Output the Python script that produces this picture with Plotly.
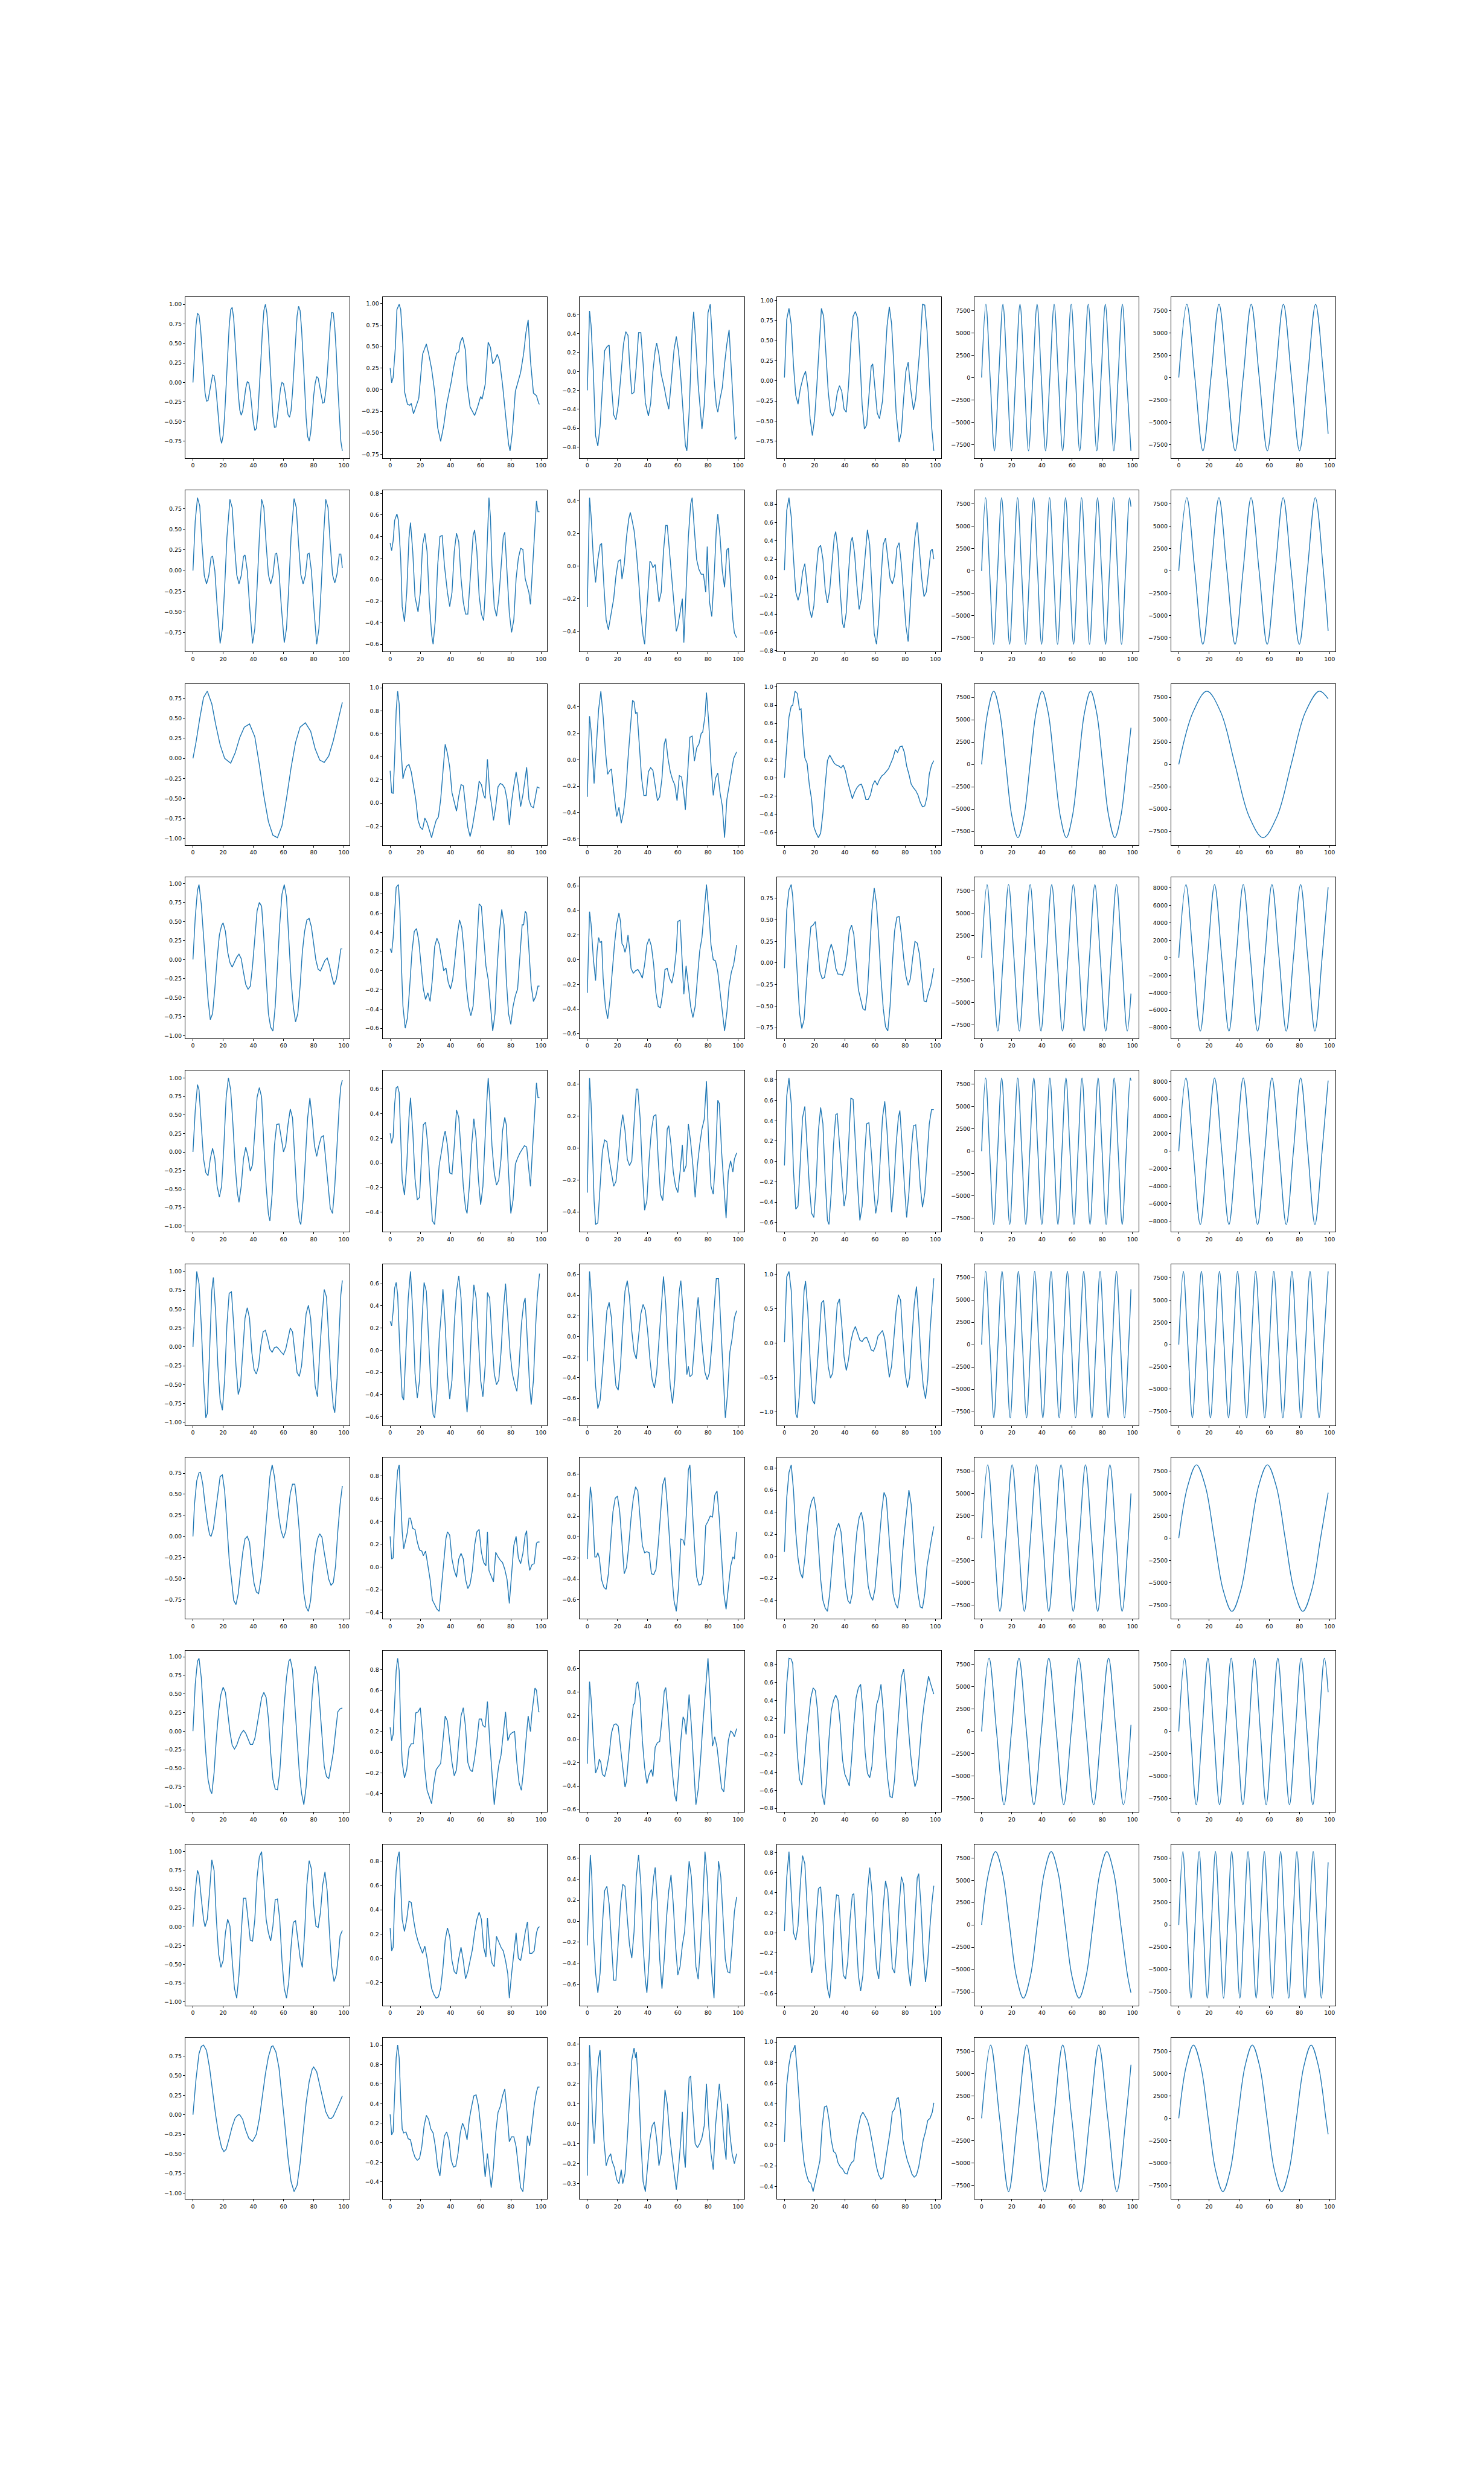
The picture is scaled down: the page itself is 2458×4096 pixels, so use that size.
import plotly.graph_objects as go

# ---------------- data ----------------
r1c1 = [(0,0.0),(1,0.39),(2,0.73),(3,0.885),(4,0.86),(5,0.70),(6,0.45),(7,0.15),(8,-0.13),(9,-0.24),(10,-0.23),(11,-0.12),(12,0.0),(13,0.095),(14,0.085),(15,-0.03),(16,-0.25),(17,-0.48),(18,-0.70),(19,-0.78),(20,-0.68),(21,-0.42),(22,-0.05),(23,0.35),(24,0.72),(25,0.93),(26,0.96),(27,0.82),(28,0.55),(29,0.20),(30,-0.14),(31,-0.35),(32,-0.42),(33,-0.36),(34,-0.22),(35,-0.07),(36,0.01),(37,-0.005),(38,-0.12),(39,-0.32),(40,-0.51),(41,-0.615),(42,-0.59),(43,-0.41),(44,-0.10),(45,0.28),(46,0.65),(47,0.92),(48,1.00),(49,0.89),(50,0.62),(51,0.25),(52,-0.12),(53,-0.43),(54,-0.575),(55,-0.57),(56,-0.44),(57,-0.25),(58,-0.08),(59,0.0),(60,-0.015),(61,-0.12),(62,-0.28),(63,-0.41),(64,-0.445),(65,-0.36),(66,-0.12),(67,0.22),(68,0.56),(69,0.85),(70,0.975),(71,0.92),(72,0.68),(73,0.35),(74,-0.05),(75,-0.45),(76,-0.69),(77,-0.75),(78,-0.65),(79,-0.43),(80,-0.17),(81,-0.01),(82,0.075),(83,0.055),(84,-0.05),(85,-0.18),(86,-0.265),(87,-0.255),(88,-0.12),(89,0.10),(90,0.42),(91,0.72),(92,0.895),(93,0.89),(94,0.70),(95,0.38),(96,-0.05),(97,-0.43),(98,-0.75),(99,-0.875)]
r1c2 = [(0,0.25),(1,0.08),(2,0.14),(3.5,0.50),(4.5,0.93),(6,0.99),(7,0.93),(8.5,0.53),(9.5,-0.02),(11.5,-0.17),(13,-0.18),(14,-0.16),(15.5,-0.28),(17.5,-0.17),(19,-0.10),(21.5,0.41),(24,0.53),(25.5,0.42),(27.5,0.24),(29.5,-0.02),(31.5,-0.44),(33.5,-0.60),(35.5,-0.42),(37.5,-0.17),(40.5,0.09),(42,0.25),(44,0.42),(45.5,0.44),(46.5,0.55),(48,0.61),(50,0.45),(51,0.06),(53,-0.20),(56,-0.30),(58,-0.20),(60,-0.08),(61,-0.11),(63,0.06),(65,0.55),(66.5,0.49),(68,0.30),(69.5,0.34),(71,0.41),(72.5,0.34),(74.5,0.06),(76.5,-0.29),(78.5,-0.63),(79.5,-0.71),(81,-0.50),(83,-0.02),(84.5,0.07),(86.5,0.20),(88.5,0.42),(90,0.66),(91.5,0.81),(93,0.34),(95,-0.04),(97,-0.07),(98.5,-0.16),(99,-0.17)]
r1c3 = [(0,-0.20),(1.5,0.64),(2.5,0.49),(4,0.0),(5.5,-0.68),(7,-0.79),(8.5,-0.58),(10,-0.14),(11.5,0.22),(13,0.26),(14.5,0.28),(16,-0.14),(17.5,-0.46),(19,-0.51),(20.5,-0.36),(22.5,0.0),(24,0.29),(25.5,0.42),(27,0.38),(28,0.09),(29.5,-0.24),(31,-0.22),(32.5,0.06),(34,0.41),(35.5,0.41),(37,0.08),(38.5,-0.33),(40.5,-0.47),(42,-0.34),(43.5,0.0),(45,0.22),(46,0.30),(47.5,0.18),(49,-0.03),(51,-0.17),(52.5,-0.30),(54,-0.40),(55.5,-0.14),(57.5,0.23),(59,0.37),(60.5,0.21),(62,-0.07),(63.5,-0.43),(65,-0.78),(66,-0.84),(67.5,-0.43),(68.5,0.0),(69.5,0.44),(70.5,0.63),(72,0.29),(73.5,-0.14),(75,-0.43),(76,-0.61),(77.5,-0.36),(79,0.15),(80,0.62),(81.5,0.71),(82.5,0.44),(84,-0.07),(85.5,-0.36),(86.5,-0.43),(88,-0.29),(89.5,-0.17),(91,0.08),(92.5,0.29),(94,0.44),(95.5,0.0),(97,-0.43),(98,-0.72),(99,-0.69)]
r1c4 = [(0,0.04),(1.5,0.76),(3,0.90),(4.5,0.70),(6,0.19),(7.5,-0.18),(9,-0.29),(10.5,-0.10),(12.5,0.05),(14,0.12),(15.5,-0.08),(17,-0.47),(18.5,-0.68),(20,-0.47),(21.5,-0.05),(23,0.46),(24.5,0.90),(26,0.80),(27.5,0.37),(29,-0.13),(30.5,-0.39),(32,-0.44),(33.5,-0.35),(35,-0.15),(36.5,-0.06),(38,-0.13),(39.5,-0.35),(41,-0.39),(42.5,-0.05),(44,0.46),(45.5,0.80),(47,0.86),(48.5,0.78),(50,0.29),(51.5,-0.30),(53,-0.60),(54.5,-0.55),(56,-0.15),(57.5,0.18),(58.5,0.21),(60,-0.10),(61.5,-0.40),(63,-0.47),(65,-0.25),(66.5,0.20),(68,0.68),(69.5,0.92),(71,0.71),(72.5,0.20),(74,-0.39),(76,-0.76),(77.5,-0.64),(79,-0.22),(80.5,0.12),(82,0.23),(83.5,-0.08),(85.5,-0.36),(87,-0.22),(88.5,0.12),(90,0.46),(91.5,0.95),(93,0.94),(94.5,0.63),(96,0.04),(97.5,-0.56),(99,-0.87)]
r1c5_x = [0,2.83,5.66,8.48,11.31,14.14,16.97,19.79,22.62,25.45,28.28,31.1,33.93,36.76,39.59,42.41,45.24,48.07,50.9,53.72,56.55,59.38,62.21,65.03,67.86,70.69,73.52,76.34,79.17,82.0,84.83,87.65,90.48,93.31,96.14,98.96]
r1c5_y = [0,8200,0,-8200,0,8200,0,-8200,0,8200,0,-8200,0,8200,0,-8200,0,8200,0,-8200,0,8200,0,-8200,0,8200,0,-8200,0,8200,0,-8200,0,8200,0,-8200]
r1c6_x = [0,5.34,10.67,16.01,21.34,26.68,32.01,37.35,42.68,48.02,53.35,58.69,64.02,69.36,74.69,80.03,85.36,90.7,96.03,99]
r1c6_y = [0,8200,0,-8200,0,8200,0,-8200,0,8200,0,-8200,0,8200,0,-8200,0,8200,0,-6300]

r2c1 = [(0,0.0),(1.5,0.6),(3,0.88),(4.5,0.78),(6,0.32),(7.5,-0.06),(9,-0.16),(10.5,-0.06),(12,0.16),(13,0.175),(14.5,0.0),(16,-0.42),(18,-0.88),(19.5,-0.7),(21,-0.2),(22.5,0.4),(24.5,0.86),(26,0.76),(27.5,0.32),(29,-0.05),(30.5,-0.16),(32,-0.06),(33.5,0.17),(34.5,0.19),(36,0.0),(37.5,-0.42),(39.5,-0.88),(41,-0.7),(42.5,-0.2),(44,0.4),(45.5,0.86),(47,0.76),(48.5,0.32),(50,-0.05),(51.5,-0.16),(53,-0.06),(54.5,0.2),(55.5,0.21),(57,0.0),(58.5,-0.42),(60.5,-0.87),(62,-0.7),(63.5,-0.2),(65,0.4),(67,0.87),(68.5,0.76),(70,0.32),(71.5,-0.05),(73,-0.16),(74.5,-0.06),(76,0.2),(77,0.21),(78.5,0.0),(80,-0.42),(82,-0.89),(83.5,-0.7),(85,-0.2),(86.5,0.4),(88,0.86),(89.5,0.76),(91,0.32),(92.5,-0.05),(94,-0.15),(95.5,-0.04),(97,0.2),(98,0.2),(99,0.03)]
r2c2 = [(0,0.34),(1,0.27),(2,0.36),(3,0.55),(4.5,0.61),(5.5,0.55),(7,0.20),(8,-0.25),(9.5,-0.39),(11,-0.12),(12.5,0.39),(13.5,0.53),(15,0.26),(16.5,-0.16),(18.5,-0.30),(20,-0.12),(21.5,0.32),(23,0.43),(24.5,0.26),(26,-0.21),(27.5,-0.51),(28.5,-0.60),(30,-0.37),(31.5,0.13),(33,0.40),(34.5,0.41),(36,0.13),(38,-0.12),(39.5,-0.25),(41,-0.12),(42.5,0.26),(44,0.43),(45.5,0.35),(47,0.01),(48.5,-0.21),(50,-0.32),(51.5,-0.32),(53,0.01),(55,0.41),(56,0.46),(57.5,0.26),(59,-0.15),(60.5,-0.32),(62,-0.38),(63.5,0.01),(64.5,0.39),(65.5,0.76),(66.5,0.58),(67.5,0.13),(69,-0.25),(70.5,-0.34),(72,-0.18),(73.5,0.13),(75,0.40),(76,0.44),(77.5,0.07),(79,-0.31),(80.5,-0.49),(82,-0.37),(83.5,0.01),(85,0.20),(86.5,0.29),(88,0.28),(89.5,0.01),(90.5,-0.04),(92,-0.12),(93,-0.23),(94.5,0.13),(96,0.51),(97,0.73),(98,0.63),(99,0.63)]
r2c3 = [(0,-0.25),(1.5,0.42),(2.5,0.31),(4,0.05),(5.5,-0.10),(7,0.04),(8.5,0.13),(9.5,0.14),(11,-0.12),(12.5,-0.33),(14,-0.39),(15.5,-0.31),(17.5,-0.20),(19,-0.06),(20.5,0.03),(22,0.04),(23,-0.08),(24.5,0.01),(26,0.18),(27.5,0.29),(28.5,0.33),(29.5,0.29),(31,0.22),(32.5,0.09),(34,-0.08),(35.5,-0.29),(37,-0.43),(38,-0.48),(39,-0.33),(40.5,-0.09),(41.5,0.03),(42.5,0.02),(43.5,-0.01),(45,0.01),(46,-0.08),(47.5,-0.22),(49,-0.16),(50.5,0.09),(52,0.25),(53,0.25),(54.5,0.09),(56,-0.08),(57.5,-0.24),(59,-0.40),(60,-0.37),(61.5,-0.28),(63,-0.20),(64,-0.47),(65.5,-0.16),(67,0.18),(68.5,0.38),(69.5,0.42),(71,0.22),(72.5,0.04),(74,-0.02),(75.5,-0.05),(77,-0.05),(78.5,-0.16),(79.5,0.12),(81,-0.22),(82.5,-0.31),(84,-0.08),(85.5,0.22),(86.5,0.32),(88,0.18),(89.5,-0.03),(91,-0.13),(92.5,0.10),(93.5,0.11),(95,-0.12),(96.5,-0.33),(97.5,-0.41),(99,-0.44)]
r2c4 = [(0,0.08),(1.5,0.73),(3,0.87),(4.5,0.66),(6,0.21),(7.5,-0.16),(9,-0.25),(10.5,-0.16),(12,0.06),(13.5,0.15),(15,-0.08),(16.5,-0.34),(18,-0.44),(19.5,-0.31),(21,0.06),(22.5,0.32),(24,0.35),(25.5,0.20),(27,-0.13),(28.5,-0.28),(30,-0.14),(31.5,0.14),(33,0.44),(34,0.50),(35.5,0.29),(37,-0.16),(38.5,-0.50),(39.5,-0.55),(41,-0.38),(42.5,0.06),(44,0.39),(45,0.44),(46.5,0.26),(48,-0.08),(49.5,-0.35),(51,-0.23),(52.5,0.06),(54,0.36),(55,0.52),(56.5,0.36),(58,-0.16),(59.5,-0.61),(61,-0.73),(62.5,-0.46),(64,-0.01),(65.5,0.36),(67,0.43),(68.5,0.20),(70,-0.01),(71.5,-0.07),(73,0.02),(74.5,0.32),(76,0.38),(77.5,0.14),(79,-0.23),(80.5,-0.53),(82,-0.70),(83.5,-0.31),(85,0.14),(86.5,0.44),(88,0.60),(89.5,0.29),(91,-0.01),(92.5,-0.21),(94,-0.16),(95.5,0.06),(97,0.29),(98,0.31),(99,0.20)]
r2c5_x = [0,2.65,5.3,7.95,10.6,13.25,15.9,18.55,21.2,23.85,26.5,29.15,31.8,34.45,37.1,39.75,42.4,45.05,47.7,50.35,53.0,55.65,58.3,60.95,63.6,66.25,68.9,71.55,74.2,76.85,79.5,82.15,84.8,87.45,90.1,92.75,95.4,98.05,99]
r2c5_y = [0,8200,0,-8200,0,8200,0,-8200,0,8200,0,-8200,0,8200,0,-8200,0,8200,0,-8200,0,8200,0,-8200,0,8200,0,-8200,0,8200,0,-8200,0,8200,0,-8200,0,8200,7200]
r2c6_x = [0,5.33,10.65,15.98,21.3,26.63,31.95,37.28,42.6,47.93,53.25,58.58,63.9,69.23,74.55,79.88,85.2,90.53,95.85,99]
r2c6_y = [0,8200,0,-8200,0,8200,0,-8200,0,8200,0,-8200,0,8200,0,-8200,0,8200,0,-6700]

r3c1 = [(0,0.0),(2,0.2),(4.5,0.5),(7,0.76),(9.5,0.84),(12.5,0.68),(15,0.43),(18,0.17),(21,0.0),(25,-0.06),(28,0.07),(31,0.26),(34,0.39),(37.5,0.43),(41,0.27),(44,-0.08),(47,-0.47),(50,-0.79),(53,-0.96),(56,-0.99),(59,-0.84),(62,-0.5),(65,-0.12),(68,0.2),(71,0.39),(74.5,0.445),(78,0.34),(81,0.12),(84,-0.02),(87,-0.05),(90,0.03),(93,0.22),(96,0.46),(99,0.70)]
r3c2 = [(0,0.28),(1,0.09),(2,0.085),(3,0.39),(4,0.80),(5,0.97),(6,0.86),(7,0.51),(8.5,0.21),(9.5,0.27),(11,0.32),(12.5,0.335),(14,0.27),(15.5,0.15),(17,0.03),(18.5,-0.15),(20,-0.21),(21.5,-0.23),(23,-0.13),(24.5,-0.17),(26,-0.24),(27.5,-0.30),(29,-0.22),(30.5,-0.15),(32,-0.12),(33.5,0.03),(35,0.27),(36.5,0.51),(38,0.43),(39.5,0.31),(41,0.09),(42.5,0.01),(44,-0.07),(45.5,0.06),(47,0.16),(48.5,0.15),(50,-0.03),(51.5,-0.21),(53,-0.29),(54.5,-0.21),(56,-0.09),(57.5,0.03),(59,0.19),(60.5,0.16),(62,0.07),(63,0.04),(64.5,0.38),(66,0.09),(67.5,-0.04),(68.5,-0.15),(70,-0.03),(71.5,0.14),(73,0.17),(74.5,0.16),(76,0.13),(77.5,0.03),(79,-0.19),(80.5,0.01),(82,0.15),(83.5,0.27),(85,0.15),(86.5,-0.03),(88,0.07),(89.5,0.21),(90.5,0.31),(92,0.03),(93.5,-0.03),(95,-0.04),(96.5,0.06),(97.5,0.14),(99,0.13)]
r3c3 = [(0,-0.28),(1,0.17),(1.5,0.33),(2.5,0.22),(3.5,0.01),(4.5,-0.18),(5.5,0.01),(6.5,0.22),(7.5,0.38),(9,0.52),(10.5,0.33),(12,0.07),(13.5,-0.11),(15,-0.08),(16,-0.07),(17,-0.19),(18.5,-0.35),(19.5,-0.43),(21,-0.36),(22.5,-0.48),(24,-0.40),(25.5,-0.25),(27,0.01),(28.5,0.24),(30,0.45),(31,0.44),(32,0.35),(33,0.36),(34.5,0.12),(36,-0.14),(37.5,-0.27),(39,-0.27),(40.5,-0.09),(42,-0.06),(43.5,-0.08),(45,-0.19),(46.5,-0.31),(48,-0.28),(49.5,-0.14),(51,0.12),(52,0.16),(53.5,0.01),(55,-0.09),(56.5,-0.15),(58,-0.19),(59.5,-0.31),(61,-0.12),(62.5,-0.13),(64,-0.26),(65,-0.38),(66.5,-0.09),(68,0.17),(69.5,0.18),(71,-0.01),(72.5,0.09),(74,0.12),(75.5,0.20),(76.5,0.21),(78,0.33),(79,0.51),(80.5,0.28),(82,-0.04),(83.5,-0.27),(85,-0.14),(86.5,-0.10),(88,-0.25),(89.5,-0.35),(91,-0.59),(92.5,-0.30),(94,-0.19),(95.5,-0.09),(97,0.01),(99,0.06)]
r3c4 = [(0,0.0),(1.5,0.37),(3,0.67),(4.5,0.79),(5.5,0.80),(7,0.955),(8.5,0.93),(10,0.75),(11,0.76),(12,0.52),(13.5,0.22),(15,0.16),(16.5,-0.08),(18,-0.24),(19.5,-0.54),(21,-0.61),(22.5,-0.66),(24,-0.61),(25.5,-0.39),(27,-0.08),(28.5,0.19),(30,0.25),(31.5,0.20),(33,0.16),(34.5,0.14),(36,0.13),(37.5,0.11),(39,0.14),(40.5,0.07),(42,-0.05),(43.5,-0.14),(45,-0.23),(46.5,-0.16),(48,-0.11),(49.5,-0.08),(51,-0.07),(52.5,-0.14),(54,-0.24),(55.5,-0.24),(57,-0.19),(58.5,-0.08),(60,-0.03),(61.5,-0.08),(63,-0.02),(64.5,0.02),(66,0.04),(67.5,0.07),(69,0.10),(70.5,0.16),(72,0.22),(73.5,0.31),(75,0.28),(76.5,0.34),(78,0.35),(79.5,0.28),(81,0.13),(82.5,0.04),(84,-0.07),(85.5,-0.11),(87,-0.14),(88.5,-0.19),(90,-0.27),(91.5,-0.32),(93,-0.31),(94.5,-0.21),(96,0.04),(97.5,0.14),(99,0.19)]
r3c5_x = [0,4.01,8.03,12.04,16.05,20.06,24.08,28.09,32.1,36.11,40.13,44.14,48.15,52.16,56.18,60.19,64.2,68.21,72.23,76.24,80.25,84.26,88.28,92.29,96.3,99]
r3c5_y = [0,5800,8200,5800,0,-5800,-8200,-5800,0,5800,8200,5800,0,-5800,-8200,-5800,0,5800,8200,5800,0,-5800,-8200,-5800,0,4100]
r3c6_x = [0,9.31,18.63,27.94,37.25,46.56,55.88,65.19,74.5,83.81,93.13,99]
r3c6_y = [0,5800,8200,5800,0,-5800,-8200,-5800,0,5800,8200,7350]

r4c1 = [(0,0.0),(1.5,0.55),(3,0.91),(4,0.985),(5.5,0.73),(7,0.28),(8.5,-0.17),(10,-0.53),(11.5,-0.79),(13,-0.71),(14.5,-0.38),(16,0.01),(17.5,0.32),(19,0.45),(20,0.48),(21.5,0.37),(23,0.10),(24.5,-0.04),(26,-0.10),(27.5,-0.04),(29,0.03),(30.5,0.07),(32,0.01),(33.5,-0.17),(35,-0.33),(36.5,-0.39),(38,-0.35),(39.5,-0.08),(41,0.28),(42.5,0.64),(44,0.75),(45.5,0.70),(47,0.28),(48.5,-0.26),(50,-0.71),(51.5,-0.89),(53,-0.94),(54.5,-0.62),(56,-0.08),(57.5,0.46),(59,0.86),(60.5,0.985),(62,0.82),(63.5,0.28),(65,-0.26),(66.5,-0.62),(68,-0.82),(69.5,-0.71),(71,-0.35),(72.5,0.10),(74,0.37),(75.5,0.52),(77,0.54),(78.5,0.43),(80,0.19),(81.5,-0.01),(83,-0.13),(84.5,-0.15),(86,-0.08),(87.5,-0.01),(89,0.02),(90.5,-0.08),(92,-0.22),(93.5,-0.33),(95,-0.26),(96.5,-0.08),(98,0.14),(99,0.14)]
r4c2 = [(0,0.23),(1,0.19),(2,0.34),(3,0.63),(4,0.87),(5.5,0.90),(6.5,0.63),(7.5,0.05),(8.5,-0.37),(10,-0.60),(11.5,-0.49),(13,-0.16),(14.5,0.20),(16,0.41),(17.5,0.44),(19,0.31),(20.5,0.05),(22,-0.19),(23.5,-0.30),(25,-0.23),(26.5,-0.32),(28,-0.09),(29.5,0.25),(31,0.34),(32.5,0.28),(34,0.13),(35.5,0.0),(37,0.03),(38.5,-0.12),(40,-0.19),(41.5,-0.09),(43,0.13),(44.5,0.37),(46,0.53),(47.5,0.45),(49,0.20),(50.5,-0.16),(52,-0.37),(53.5,-0.47),(55,-0.37),(56.5,-0.02),(58,0.41),(59,0.70),(60.5,0.67),(62,0.34),(63.5,0.05),(65,-0.09),(66.5,-0.37),(68,-0.63),(69.5,-0.45),(71,0.05),(72.5,0.41),(74,0.64),(75.5,0.48),(77,-0.09),(78.5,-0.45),(80,-0.56),(81.5,-0.37),(83,-0.26),(84.5,-0.19),(86,0.13),(87.5,0.48),(88.5,0.48),(89.5,0.62),(90.5,0.60),(92,0.20),(93.5,-0.16),(95,-0.32),(96.5,-0.27),(98,-0.16),(99,-0.16)]
r4c3 = [(0,-0.27),(1.5,0.39),(2.5,0.29),(4,0.01),(5.5,-0.17),(6.5,0.07),(7.5,0.18),(8.5,0.14),(9.5,0.15),(10.5,-0.15),(12,-0.38),(13.5,-0.48),(15,-0.33),(16.5,-0.10),(18,0.12),(19.5,0.29),(21,0.38),(22,0.31),(23,0.13),(24,0.11),(25,0.06),(26,0.11),(27,0.20),(28,0.09),(29,-0.07),(30.5,-0.11),(32,-0.09),(33.5,-0.08),(35,-0.11),(36.5,-0.15),(38,-0.04),(39.5,0.12),(41,0.17),(42.5,0.11),(44,-0.04),(45.5,-0.27),(47,-0.38),(48.5,-0.39),(50,-0.27),(51.5,-0.08),(53,-0.07),(54.5,-0.15),(56,-0.19),(57.5,-0.10),(59,0.07),(60,0.31),(61.5,0.32),(63,-0.04),(64,-0.28),(65.5,-0.05),(67,-0.21),(68.5,-0.38),(70,-0.47),(71.5,-0.38),(73,-0.15),(74.5,0.07),(76,0.18),(77.5,0.40),(79,0.61),(80.5,0.40),(82,0.12),(83.5,0.0),(85,-0.01),(86.5,-0.10),(88,-0.27),(89.5,-0.43),(91,-0.58),(92.5,-0.43),(94,-0.21),(95.5,-0.10),(97,-0.04),(99,0.12)]
r4c4 = [(0,-0.06),(1.5,0.61),(3,0.85),(4.5,0.91),(5.5,0.77),(7,0.29),(8.5,-0.18),(10,-0.58),(11.5,-0.76),(13,-0.66),(14.5,-0.26),(16,0.13),(17.5,0.42),(19,0.44),(20.5,0.48),(22,0.21),(23.5,-0.10),(25,-0.18),(26.5,-0.17),(28,-0.02),(29.5,0.13),(31,0.22),(32.5,0.13),(34,-0.06),(35.5,-0.13),(37,-0.13),(38.5,-0.14),(40,-0.07),(41.5,0.10),(43,0.37),(44.5,0.44),(46,0.33),(47.5,-0.02),(49,-0.31),(50.5,-0.42),(52,-0.53),(53.5,-0.55),(55,-0.34),(56.5,0.13),(58,0.61),(59.5,0.87),(61,0.69),(62.5,0.29),(64,-0.18),(65.5,-0.53),(67,-0.74),(68.5,-0.79),(70,-0.50),(71.5,-0.02),(73,0.37),(74.5,0.53),(76,0.54),(77.5,0.33),(79,0.06),(80.5,-0.15),(82,-0.26),(83.5,-0.18),(85,0.06),(86.5,0.25),(88,0.23),(89.5,0.10),(91,-0.18),(92.5,-0.44),(94,-0.45),(95.5,-0.34),(97,-0.26),(99,-0.06)]
r4c5_x = [0,3.58,7.15,10.73,14.3,17.88,21.45,25.03,28.6,32.18,35.75,39.33,42.9,46.48,50.05,53.63,57.2,60.78,64.35,67.93,71.5,75.08,78.65,82.23,85.8,89.38,92.95,96.53,99]
r4c5_y = [0,8200,0,-8200,0,8200,0,-8200,0,8200,0,-8200,0,8200,0,-8200,0,8200,0,-8200,0,8200,0,-8200,0,8200,0,-8200,-4000]
r4c6_x = [0,4.75,9.5,14.25,19,23.75,28.5,33.25,38,42.75,47.5,52.25,57,61.75,66.5,71.25,76,80.75,85.5,90.25,95,99]
r4c6_y = [0,8400,0,-8400,0,8400,0,-8400,0,8400,0,-8400,0,8400,0,-8400,0,8400,0,-8400,0,8100]

r5c1 = [(0,0.0),(1.5,0.56),(3,0.91),(4,0.84),(5.5,0.37),(7,-0.09),(8.5,-0.28),(10,-0.32),(11.5,-0.09),(13,0.05),(14.5,-0.09),(16,-0.46),(17.5,-0.61),(19,-0.46),(20.5,0.09),(22,0.74),(23.5,1.0),(25,0.84),(26.5,0.37),(28,-0.19),(29.5,-0.56),(30.5,-0.68),(32,-0.46),(33.5,-0.09),(35,0.065),(36.5,-0.06),(38,-0.26),(39.5,-0.17),(41,0.28),(42.5,0.74),(44,0.87),(45.5,0.74),(47,0.09),(48.5,-0.46),(50,-0.84),(51,-0.93),(52.5,-0.56),(54,0.09),(55.5,0.37),(57,0.38),(58.5,0.19),(60,0.0),(61.5,0.09),(63,0.37),(64.5,0.58),(66,0.46),(67.5,-0.09),(69,-0.65),(70.5,-0.93),(71.5,-0.98),(73,-0.65),(74.5,-0.09),(76,0.46),(77.5,0.73),(79,0.46),(80.5,0.09),(82,-0.06),(83.5,0.09),(85,0.20),(86.5,0.22),(88,-0.09),(89.5,-0.46),(91,-0.76),(92.5,-0.83),(94,-0.46),(95.5,0.09),(97,0.65),(98,0.89),(99,0.97)]
r5c2 = [(0,0.24),(1,0.16),(2,0.21),(3,0.48),(4,0.61),(5,0.62),(6,0.57),(7,0.26),(8,-0.14),(9.5,-0.26),(11,-0.02),(12.5,0.37),(13.5,0.53),(15,0.26),(16.5,-0.13),(18,-0.30),(19.5,-0.28),(21,0.09),(22,0.31),(23.5,0.33),(25,0.14),(26.5,-0.19),(28,-0.47),(29.5,-0.50),(31,-0.24),(32.5,-0.02),(34,0.09),(35.5,0.21),(36.5,0.26),(38,0.14),(39.5,-0.08),(41,-0.09),(42.5,0.14),(44,0.43),(45.5,0.37),(47,0.09),(48.5,-0.19),(50,-0.37),(51,-0.41),(52.5,-0.19),(54,0.14),(55.5,0.36),(57,0.20),(58.5,-0.13),(60,-0.34),(61.5,-0.19),(63,0.26),(64,0.48),(65,0.69),(66,0.53),(67.5,0.14),(69,-0.08),(70.5,-0.18),(72,-0.14),(73.5,0.03),(74.5,0.26),(76,0.37),(77,0.31),(78.5,-0.08),(80,-0.41),(81.5,-0.30),(83,-0.01),(84.5,0.04),(86,0.08),(87.5,0.11),(89,0.14),(90.5,0.13),(92,-0.08),(93,-0.19),(94.5,0.14),(96,0.42),(97,0.65),(98,0.53),(99,0.53)]
r5c3 = [(0,-0.28),(1.5,0.44),(2.5,0.28),(3.5,-0.07),(4.5,-0.33),(5.5,-0.48),(7,-0.47),(8.5,-0.24),(10,-0.02),(11.5,0.05),(13,0.04),(14.5,-0.07),(16,-0.15),(17.5,-0.24),(19,-0.21),(20.5,-0.07),(22,0.11),(23.5,0.21),(25,0.11),(26.5,-0.07),(28,-0.11),(29.5,-0.08),(31,0.15),(32.5,0.37),(33.5,0.37),(35,0.19),(36.5,-0.15),(38,-0.39),(39.5,-0.33),(41,-0.07),(42.5,0.11),(44,0.20),(45.5,0.21),(47,-0.07),(48.5,-0.29),(50,-0.33),(51.5,-0.15),(53,0.12),(54,0.14),(55.5,0.02),(57,-0.15),(58.5,-0.24),(60,-0.28),(61.5,-0.15),(63,0.02),(64,-0.15),(65.5,-0.11),(67,0.15),(68.5,0.04),(70,-0.11),(71.5,-0.31),(73,-0.11),(74.5,0.02),(76,0.12),(77.5,0.18),(79,0.42),(80.5,0.02),(82,-0.24),(83.5,-0.29),(85,-0.07),(86.5,0.30),(87.5,0.28),(89,-0.02),(90.5,-0.24),(92,-0.44),(93.5,-0.15),(95,-0.08),(96.5,-0.15),(97.5,-0.07),(99,-0.03)]
r5c4 = [(0,-0.04),(1.5,0.64),(3,0.82),(4.5,0.57),(6,-0.10),(7.5,-0.47),(9,-0.44),(10.5,0.03),(12,0.43),(13.5,0.54),(15,0.16),(16.5,-0.24),(18,-0.51),(19.5,-0.55),(21,-0.24),(22.5,0.30),(24,0.53),(25.5,0.37),(27,-0.17),(28.5,-0.58),(29.5,-0.62),(31,-0.31),(32.5,0.16),(34,0.46),(35,0.47),(36.5,0.16),(38,-0.17),(39.5,-0.44),(41,-0.31),(42.5,0.16),(44,0.62),(45.5,0.61),(47,0.16),(48.5,-0.24),(50,-0.58),(51.5,-0.44),(53,0.03),(54.5,0.37),(56,0.38),(57.5,0.10),(59,-0.24),(60.5,-0.51),(62,-0.37),(63.5,0.03),(65,0.43),(66.5,0.59),(68,0.30),(69.5,-0.10),(71,-0.50),(72.5,-0.24),(74,0.16),(75.5,0.43),(76.5,0.50),(78,0.16),(79.5,-0.24),(81,-0.55),(82.5,-0.31),(84,0.10),(85.5,0.35),(87,0.36),(88.5,0.10),(90,-0.24),(91.5,-0.45),(93,-0.31),(94.5,0.03),(96,0.37),(97.5,0.51),(99,0.51)]
r5c5_x = [0,2.66,5.33,7.99,10.65,13.31,15.98,18.64,21.3,23.96,26.63,29.29,31.95,34.61,37.28,39.94,42.6,45.26,47.93,50.59,53.25,55.91,58.58,61.24,63.9,66.56,69.23,71.89,74.55,77.21,79.88,82.54,85.2,87.86,90.53,93.19,95.85,98.51,99]
r5c5_y = [0,8200,0,-8200,0,8200,0,-8200,0,8200,0,-8200,0,8200,0,-8200,0,8200,0,-8200,0,8200,0,-8200,0,8200,0,-8200,0,8200,0,-8200,0,8200,0,-8200,0,8200,7900]
r5c6_x = [0,4.75,9.5,14.25,19,23.75,28.5,33.25,38,42.75,47.5,52.25,57,61.75,66.5,71.25,76,80.75,85.5,90.25,95,99]
r5c6_y = [0,8400,0,-8400,0,8400,0,-8400,0,8400,0,-8400,0,8400,0,-8400,0,8400,0,-8400,0,8100]

r6c1 = [(0,0.0),(1.5,0.57),(2.5,1.0),(4,0.84),(5.5,0.29),(7,-0.43),(8.5,-0.94),(9.5,-0.88),(11,-0.07),(12.5,0.75),(13.5,0.92),(15,0.47),(16.5,-0.25),(18,-0.70),(19.5,-0.84),(21,-0.43),(22.5,0.29),(24,0.71),(25.5,0.73),(27,0.29),(28.5,-0.25),(30,-0.63),(31.5,-0.52),(33,-0.07),(34.5,0.38),(36,0.52),(37.5,0.38),(39,-0.07),(40.5,-0.30),(42,-0.36),(43.5,-0.25),(45,0.02),(46.5,0.20),(48,0.22),(49.5,0.11),(51,-0.03),(52.5,-0.07),(54,-0.01),(55.5,0.0),(57,-0.03),(58.5,-0.07),(60,-0.10),(61.5,-0.03),(63,0.11),(64.5,0.25),(66,0.20),(67.5,-0.07),(69,-0.34),(70.5,-0.39),(72,-0.25),(73.5,0.11),(75,0.44),(76.5,0.55),(78,0.38),(79.5,-0.07),(81,-0.52),(82.5,-0.66),(84,-0.07),(85.5,0.38),(87,0.76),(88.5,0.66),(90,0.11),(91.5,-0.43),(93,-0.79),(94,-0.87),(95.5,-0.43),(97,0.29),(98,0.69),(99,0.88)]
r6c2 = [(0,0.26),(1,0.22),(2,0.35),(3,0.56),(4,0.61),(5,0.50),(6.5,-0.02),(8,-0.42),(9,-0.45),(10.5,-0.02),(12,0.47),(13.5,0.71),(15,0.35),(16.5,-0.21),(18,-0.43),(19.5,-0.27),(21,0.23),(22.5,0.61),(24,0.53),(25.5,0.10),(27,-0.33),(28.5,-0.58),(29.5,-0.61),(31,-0.39),(32.5,0.10),(34,0.35),(35,0.55),(36.5,0.23),(38,-0.21),(39.5,-0.44),(41,-0.27),(42.5,0.23),(44,0.53),(45.5,0.67),(47,0.47),(48.5,-0.02),(50,-0.39),(51,-0.56),(52.5,-0.27),(54,0.23),(55.5,0.59),(57,0.47),(58.5,0.10),(60,-0.27),(61.5,-0.42),(63,-0.14),(64.5,0.52),(66,0.47),(67.5,0.10),(69,-0.21),(70.5,-0.31),(72,-0.27),(73.5,-0.02),(75,0.35),(76.5,0.60),(78,0.29),(79.5,-0.02),(81,-0.21),(82.5,-0.30),(84,-0.37),(85.5,-0.14),(87,0.23),(88.5,0.42),(89.5,0.47),(91,0.10),(92.5,-0.33),(93.5,-0.49),(95,-0.27),(96.5,0.23),(97.5,0.47),(99,0.69)]
r6c3 = [(0,-0.24),(1.5,0.63),(2.5,0.44),(4,-0.02),(5.5,-0.48),(7,-0.70),(8.5,-0.62),(10,-0.35),(11.5,-0.02),(13,0.25),(14.5,0.33),(16,0.18),(17.5,-0.22),(19,-0.48),(20.5,-0.52),(22,-0.29),(23.5,0.11),(25,0.44),(26.5,0.54),(28,0.38),(29.5,0.05),(31,-0.15),(32.5,-0.22),(34,-0.02),(35.5,0.22),(37,0.31),(38.5,0.25),(40,0.05),(41.5,-0.22),(43,-0.42),(44.5,-0.50),(46,-0.35),(47.5,-0.02),(49,0.31),(50.5,0.58),(52,0.31),(53.5,-0.15),(55,-0.48),(56.5,-0.65),(58,-0.42),(59.5,0.11),(61,0.44),(62,0.54),(63.5,0.25),(65,-0.15),(66,-0.37),(67,-0.29),(68,-0.39),(69.5,-0.37),(71,-0.09),(72.5,0.25),(73.5,0.38),(75,0.11),(76.5,-0.15),(78,-0.35),(79.5,-0.42),(81,-0.35),(82.5,-0.09),(84,0.25),(85.5,0.56),(87,0.56),(88.5,0.11),(90,-0.42),(91.5,-0.79),(93,-0.55),(94.5,-0.15),(96,-0.02),(97.5,0.18),(99,0.25)]
r6c4 = [(0,0.01),(1.5,0.96),(3,1.04),(4.5,0.76),(6,-0.14),(7.5,-1.03),(8.5,-1.09),(10,-0.73),(11.5,0.06),(13,0.76),(14,0.90),(15.5,0.46),(17,-0.24),(18.5,-0.83),(20,-0.89),(21.5,-0.44),(23,0.06),(24.5,0.58),(26,0.62),(27.5,0.16),(29,-0.34),(30.5,-0.51),(32,-0.44),(33.5,0.06),(35,0.56),(36.5,0.64),(38,0.26),(39.5,-0.20),(41,-0.40),(42.5,-0.24),(44,0.02),(45.5,0.16),(47,0.24),(48.5,0.14),(50,0.04),(51.5,0.02),(53,0.07),(54.5,0.08),(56,0.0),(57.5,-0.10),(59,-0.12),(60.5,-0.04),(62,0.10),(63.5,0.14),(65,0.18),(66.5,0.06),(68,-0.24),(69.5,-0.50),(71,-0.34),(72.5,0.06),(74,0.46),(75.5,0.70),(77,0.62),(78.5,0.06),(80,-0.44),(81.5,-0.65),(83,-0.50),(84.5,0.06),(86,0.56),(87.5,0.82),(89,0.36),(90.5,-0.24),(92,-0.63),(93.5,-0.81),(95,-0.53),(96.5,0.16),(98,0.66),(99,0.94)]
r6c5_x = [0,2.71,5.42,8.12,10.83,13.54,16.25,18.95,21.66,24.37,27.08,29.78,32.49,35.2,37.91,40.61,43.32,46.03,48.74,51.44,54.15,56.86,59.57,62.27,64.98,67.69,70.4,73.1,75.81,78.52,81.23,83.93,86.64,89.35,92.06,94.76,97.47,99]
r6c5_y = [0,8200,0,-8200,0,8200,0,-8200,0,8200,0,-8200,0,8200,0,-8200,0,8200,0,-8200,0,8200,0,-8200,0,8200,0,-8200,0,8200,0,-8200,0,8200,0,-8200,0,6200]
r6c6_x = [0,3,6,9,12,15,18,21,24,27,30,33,36,39,42,45,48,51,54,57,60,63,66,69,72,75,78,81,84,87,90,93,96,99]
r6c6_y = [0,8250,0,-8250,0,8250,0,-8250,0,8250,0,-8250,0,8250,0,-8250,0,8250,0,-8250,0,8250,0,-8250,0,8250,0,-8250,0,8250,0,-8250,0,8250]

r7c1 = [(0,0.0),(1,0.38),(2.5,0.66),(4,0.755),(5,0.76),(6.5,0.62),(8,0.38),(9.5,0.17),(11,0.02),(12,0.0),(13.5,0.09),(15,0.30),(16.5,0.54),(18,0.71),(19.5,0.73),(21,0.54),(22.5,0.14),(24,-0.27),(25.5,-0.51),(27,-0.76),(28.5,-0.81),(30,-0.68),(31.5,-0.43),(33,-0.19),(34.5,-0.03),(36,0.0),(37.5,-0.07),(39,-0.35),(40.5,-0.56),(42,-0.66),(43.5,-0.68),(45,-0.51),(46.5,-0.27),(48,0.06),(49.5,0.38),(51,0.71),(52.5,0.85),(54,0.71),(55.5,0.46),(57,0.22),(58.5,0.06),(60,-0.02),(61.5,0.06),(63,0.30),(64.5,0.51),(66,0.62),(67.5,0.62),(69,0.38),(70.5,0.06),(72,-0.35),(73.5,-0.68),(75,-0.84),(76.5,-0.89),(78,-0.76),(79.5,-0.43),(81,-0.19),(82.5,-0.03),(84,0.03),(85.5,-0.01),(87,-0.19),(88.5,-0.35),(90,-0.51),(91.5,-0.58),(93,-0.55),(94.5,-0.35),(96,0.06),(97.5,0.38),(99,0.60)]
r7c2 = [(0,0.27),(1,0.07),(2,0.08),(3,0.43),(4,0.67),(5,0.85),(6,0.90),(7,0.61),(8,0.31),(9,0.16),(10.5,0.25),(11.5,0.31),(12.5,0.43),(13.5,0.43),(15,0.34),(16.5,0.33),(18,0.22),(19.5,0.15),(21,0.14),(22,0.10),(23.5,0.14),(25,0.01),(26.5,-0.11),(28,-0.29),(29.5,-0.33),(31,-0.37),(32.5,-0.39),(34,-0.17),(35.5,0.07),(37,0.25),(38,0.31),(39.5,0.28),(41,0.07),(42.5,-0.03),(44,-0.09),(45.5,0.07),(47,0.12),(48.5,0.07),(50,-0.11),(51.5,-0.19),(53,-0.15),(54.5,-0.03),(56,0.19),(57.5,0.31),(59,0.33),(60.5,0.13),(62,0.04),(63.5,0.01),(64.5,0.31),(65.5,-0.03),(67,-0.08),(68.5,-0.13),(70,0.13),(71.5,0.09),(73,0.06),(74.5,0.04),(76,-0.02),(77.5,-0.11),(79,-0.32),(80.5,-0.05),(82,0.19),(83.5,0.27),(85,0.08),(86.5,0.03),(88,0.12),(89.5,0.28),(90.5,0.32),(91.5,0.07),(92.5,-0.03),(94,0.02),(95.5,0.03),(97,0.21),(98,0.22),(99,0.22)]
r7c3 = [(0,-0.21),(1,0.18),(2,0.48),(3,0.37),(4,0.05),(5,-0.19),(6,-0.19),(7,-0.15),(8,-0.20),(9.5,-0.41),(11,-0.48),(12.5,-0.50),(14,-0.35),(15.5,-0.08),(17,0.24),(18.5,0.37),(20,0.39),(21.5,0.24),(23,-0.08),(24.5,-0.35),(26,-0.29),(27.5,-0.08),(29,0.18),(30.5,0.37),(32,0.48),(33.5,0.44),(35,0.18),(36.5,-0.08),(38,-0.15),(39.5,-0.14),(41,-0.15),(42.5,-0.35),(44,-0.36),(45.5,-0.31),(47,-0.08),(48.5,0.24),(50,0.50),(51.5,0.57),(53,0.31),(54.5,-0.02),(56,-0.35),(57.5,-0.61),(59,-0.71),(60.5,-0.48),(62,-0.02),(63.5,-0.03),(64.5,-0.08),(66,0.31),(67,0.64),(68,0.69),(69.5,0.31),(71,-0.08),(72.5,-0.38),(74,-0.46),(75.5,-0.45),(77,-0.35),(78.5,0.11),(80,0.15),(81.5,0.20),(83,0.19),(84.5,0.40),(86,0.44),(87.5,0.18),(89,-0.21),(90.5,-0.54),(92,-0.69),(93.5,-0.48),(95,-0.28),(96.5,-0.19),(97.5,-0.21),(99,0.05)]
r7c4 = [(0,0.04),(1.5,0.53),(3,0.76),(4.5,0.83),(6,0.60),(7.5,0.22),(9,-0.02),(10.5,-0.15),(12,-0.20),(13.5,-0.02),(15,0.22),(16.5,0.41),(18,0.50),(19.5,0.54),(21,0.41),(22.5,0.10),(24,-0.21),(25.5,-0.40),(27,-0.47),(28.5,-0.50),(30,-0.34),(31.5,-0.09),(33,0.16),(34.5,0.25),(36,0.30),(37.5,0.22),(39,-0.02),(40.5,-0.27),(42,-0.40),(43.5,-0.43),(45,-0.34),(46.5,-0.02),(48,0.22),(49.5,0.35),(51,0.40),(52.5,0.29),(54,-0.02),(55.5,-0.27),(57,-0.36),(58.5,-0.40),(60,-0.30),(61.5,-0.09),(63,0.16),(64.5,0.41),(66,0.58),(67.5,0.53),(69,0.22),(70.5,-0.09),(72,-0.34),(73.5,-0.43),(75,-0.47),(76.5,-0.34),(78,-0.02),(79.5,0.22),(81,0.41),(82.5,0.60),(84,0.47),(85.5,0.16),(87,-0.15),(88.5,-0.34),(90,-0.46),(91.5,-0.47),(93,-0.34),(94.5,-0.09),(96,0.04),(97.5,0.16),(99,0.27)]
r7c5_x = [0,4.05,8.1,12.15,16.2,20.25,24.3,28.35,32.4,36.45,40.5,44.55,48.6,52.65,56.7,60.75,64.8,68.85,72.9,76.95,81,85.05,89.1,93.15,97.2,99]
r7c5_y = [0,8200,0,-8200,0,8200,0,-8200,0,8200,0,-8200,0,8200,0,-8200,0,8200,0,-8200,0,8200,0,-8200,0,5000]
r7c6_x = [0,5.88,11.75,17.63,23.5,29.38,35.25,41.13,47,52.88,58.75,64.63,70.5,76.38,82.25,88.13,94,99]
r7c6_y = [0,5800,8200,5800,0,-5800,-8200,-5800,0,5800,8200,5800,0,-5800,-8200,-5800,0,5070]

r8c1 = [(0,0.0),(1.5,0.63),(3,0.94),(4,0.98),(5.5,0.72),(7,0.17),(8.5,-0.29),(10,-0.65),(11.5,-0.80),(12.5,-0.84),(14,-0.56),(15.5,-0.10),(17,0.26),(18.5,0.49),(20,0.59),(21.5,0.52),(23,0.26),(24.5,-0.01),(26,-0.19),(27.5,-0.24),(29,-0.19),(30.5,-0.10),(32,-0.03),(33.5,0.01),(35,-0.03),(36.5,-0.10),(38,-0.18),(39.5,-0.18),(41,-0.10),(42.5,0.08),(44,0.26),(45.5,0.45),(47,0.52),(48.5,0.45),(50,0.17),(51.5,-0.29),(53,-0.65),(54.5,-0.78),(56,-0.79),(57.5,-0.56),(59,-0.10),(60.5,0.36),(62,0.72),(63.5,0.94),(64.5,0.97),(66,0.82),(67.5,0.36),(69,-0.10),(70.5,-0.56),(72,-0.84),(73.5,-0.99),(75,-0.75),(76.5,-0.29),(78,0.26),(79.5,0.63),(81,0.87),(82.5,0.76),(84,0.36),(85.5,-0.10),(87,-0.47),(88.5,-0.61),(90,-0.64),(91.5,-0.47),(93,-0.29),(94.5,-0.01),(96,0.26),(97.5,0.30),(99,0.31)]
r8c2 = [(0,0.24),(1,0.11),(2,0.17),(3,0.52),(4,0.79),(5,0.91),(6,0.79),(7,0.24),(8,-0.10),(9.5,-0.25),(11,-0.17),(12.5,0.04),(14,0.08),(15.5,0.08),(17,0.38),(18.5,0.39),(20,0.43),(21.5,0.17),(23,-0.17),(24.5,-0.37),(26,-0.44),(27.5,-0.50),(29,-0.30),(30.5,-0.17),(32,-0.14),(33.5,-0.11),(35,0.11),(36.5,0.35),(38,0.30),(39.5,0.11),(41,-0.10),(42.5,-0.23),(44,-0.17),(45.5,0.11),(47,0.35),(48.5,0.43),(50,0.24),(51.5,-0.10),(53,-0.17),(54.5,-0.19),(56,-0.06),(57.5,0.11),(59,0.32),(60.5,0.32),(61.5,0.26),(63,0.24),(64.5,0.49),(66,0.11),(67.5,-0.23),(69,-0.51),(70.5,-0.30),(72,-0.13),(73.5,-0.03),(75,0.17),(76.5,0.39),(78,0.11),(79.5,0.17),(81,0.19),(82.5,0.20),(84,-0.10),(85.5,-0.30),(87,-0.37),(88.5,-0.17),(90,0.11),(91.5,0.35),(93,0.20),(94,0.38),(95,0.50),(96,0.62),(97,0.60),(98.5,0.39),(99,0.39)]
r8c3 = [(0,-0.21),(1,0.23),(1.5,0.49),(2.5,0.35),(4,-0.01),(5.5,-0.29),(7,-0.24),(8,-0.17),(9,-0.20),(10,-0.30),(11.5,-0.32),(13,-0.24),(14.5,-0.13),(16,0.05),(17.5,0.12),(19,0.13),(20.5,0.11),(22,-0.07),(23.5,-0.24),(25,-0.41),(26,-0.36),(27.5,-0.13),(29,0.11),(30.5,0.29),(31.5,0.31),(32.5,0.47),(33.5,0.49),(35,0.35),(36.5,-0.01),(38,-0.24),(39.5,-0.38),(41,-0.30),(42.5,-0.26),(43.5,-0.32),(45,-0.07),(46.5,-0.03),(48,-0.02),(49.5,0.17),(51,0.41),(52,0.44),(53.5,0.23),(55,-0.07),(56.5,-0.30),(58,-0.48),(59,-0.53),(60.5,-0.30),(62,-0.01),(63.5,0.19),(64.5,0.16),(65.5,0.04),(66.5,0.23),(67.5,0.38),(69,0.11),(70.5,-0.24),(72,-0.56),(73.5,-0.43),(75,-0.19),(76.5,0.11),(78,0.35),(79,0.52),(80,0.69),(81.5,0.35),(83,-0.06),(84.5,0.02),(86,-0.07),(87.5,-0.24),(89,-0.42),(90.5,-0.45),(92,-0.24),(93.5,-0.01),(95,0.07),(96.5,0.05),(97.5,0.02),(99,0.09)]
r8c4 = [(0,0.03),(1.5,0.58),(3,0.87),(4.5,0.86),(5.5,0.81),(7,0.28),(8.5,-0.18),(10,-0.48),(11.5,-0.54),(13,-0.33),(14.5,-0.03),(16,0.20),(17.5,0.43),(19,0.54),(20.5,0.51),(22,0.28),(23.5,-0.18),(25,-0.64),(26.5,-0.76),(28,-0.48),(29.5,-0.03),(31,0.28),(32.5,0.40),(34,0.46),(35.5,0.40),(37,0.13),(38.5,-0.26),(40,-0.42),(41.5,-0.48),(43,-0.55),(44.5,-0.26),(46,0.13),(47.5,0.43),(49,0.54),(50.5,0.58),(52,0.28),(53.5,-0.18),(55,-0.41),(56.5,-0.46),(58,-0.33),(59.5,0.05),(61,0.35),(62.5,0.43),(64,0.58),(65.5,0.28),(67,-0.18),(68.5,-0.48),(70,-0.67),(71.5,-0.68),(73,-0.48),(74.5,-0.03),(76,0.35),(77.5,0.66),(79,0.75),(80.5,0.51),(82,0.13),(83.5,-0.18),(85,-0.41),(86.5,-0.56),(88,-0.48),(89.5,-0.18),(91,0.13),(92.5,0.35),(94,0.51),(95.5,0.67),(97,0.58),(99,0.47)]
r8c5_x = [0,4.95,9.9,14.85,19.8,24.75,29.7,34.65,39.6,44.55,49.5,54.45,59.4,64.35,69.3,74.25,79.2,84.15,89.1,94.05,99]
r8c5_y = [0,8200,0,-8200,0,8200,0,-8200,0,8200,0,-8200,0,8200,0,-8200,0,8200,0,-8200,750]
r8c6_x = [0,3.86,7.73,11.59,15.45,19.31,23.18,27.04,30.9,34.76,38.63,42.49,46.35,50.21,54.08,57.94,61.8,65.66,69.53,73.39,77.25,81.11,84.98,88.84,92.7,96.56,99]
r8c6_y = [0,8200,0,-8200,0,8200,0,-8200,0,8200,0,-8200,0,8200,0,-8200,0,8200,0,-8200,0,8200,0,-8200,0,8200,4400]

r9c1 = [(0,0.0),(1.5,0.47),(3,0.75),(4,0.69),(5.5,0.38),(7,0.10),(8,0.0),(9.5,0.10),(11,0.47),(12.5,0.89),(14,0.75),(15.5,0.10),(17,-0.36),(18.5,-0.54),(20,-0.45),(21.5,-0.08),(23,0.10),(24.5,0.01),(26,-0.45),(27.5,-0.82),(29,-0.95),(30.5,-0.64),(32,-0.08),(33.5,0.38),(35,0.38),(36.5,0.10),(38,-0.18),(39.5,-0.19),(41,0.10),(42.5,0.66),(44,0.93),(45.5,1.0),(47,0.56),(48.5,0.10),(50,-0.08),(51.5,-0.19),(53,0.01),(54.5,0.36),(56,0.37),(57.5,0.10),(59,-0.45),(60.5,-0.82),(62,-0.95),(63.5,-0.73),(65,-0.27),(66.5,0.06),(68,0.08),(69.5,-0.18),(71,-0.41),(72.5,-0.54),(74,-0.08),(75.5,0.56),(77,0.88),(78.5,0.77),(80,0.29),(81.5,0.01),(83,-0.01),(84.5,0.19),(86,0.56),(87.5,0.73),(89,0.47),(90.5,-0.08),(92,-0.54),(93.5,-0.73),(95,-0.64),(96.5,-0.36),(97.5,-0.12),(99,-0.05)]
r9c2 = [(0,0.25),(1,0.06),(2,0.09),(3,0.49),(4,0.72),(5,0.83),(6,0.88),(7,0.60),(8,0.32),(9.5,0.22),(11,0.32),(12.5,0.47),(14,0.46),(15.5,0.32),(17,0.21),(18.5,0.14),(20,0.09),(21.5,0.04),(23,0.10),(24.5,0.0),(26,-0.13),(27.5,-0.25),(29,-0.30),(30.5,-0.33),(32,-0.32),(33.5,-0.25),(35,-0.08),(36.5,0.15),(38,0.25),(39.5,0.18),(41,-0.02),(42.5,-0.11),(44,-0.13),(45.5,0.0),(47,0.09),(48.5,-0.02),(50,-0.17),(51.5,-0.11),(53,-0.02),(54.5,0.07),(56,0.21),(57.5,0.32),(59,0.38),(60.5,0.32),(62,0.09),(63.5,0.01),(64.5,0.33),(66,0.09),(67.5,-0.04),(69,-0.07),(70.5,0.18),(72,0.13),(73.5,0.09),(75,0.06),(76.5,-0.02),(78,-0.13),(79,-0.33),(80.5,-0.13),(82,0.04),(83.5,0.21),(85,0.0),(86.5,-0.02),(88,0.09),(89.5,0.21),(91,0.30),(92.5,0.04),(94,0.04),(95.5,0.06),(97,0.21),(98,0.25),(99,0.26)]
r9c3 = [(0,-0.23),(1,0.16),(2,0.63),(3,0.42),(4,-0.10),(5.5,-0.49),(7,-0.68),(8.5,-0.49),(10,-0.04),(11.5,0.29),(13,0.33),(14.5,0.16),(16,-0.23),(17.5,-0.56),(19,-0.56),(20.5,-0.23),(22,0.16),(23.5,0.35),(25,0.33),(26.5,0.03),(28,-0.23),(29.5,-0.35),(31,-0.10),(32.5,0.42),(34,0.63),(35.5,0.35),(37,-0.23),(38.5,-0.56),(39.5,-0.68),(41,-0.36),(42.5,0.16),(44,0.42),(45,0.51),(46.5,0.16),(48,-0.36),(49.5,-0.64),(51,-0.36),(52.5,0.03),(54,0.29),(55.5,0.44),(57,0.16),(58.5,-0.23),(60,-0.51),(61.5,-0.43),(63,-0.23),(64.5,-0.10),(66,0.22),(67.5,0.57),(69,0.42),(70.5,0.03),(72,-0.43),(73.5,-0.55),(75,-0.23),(76.5,0.16),(78,0.66),(79.5,0.42),(81,-0.10),(82.5,-0.49),(84,-0.73),(85.5,0.03),(87,0.57),(88.5,0.42),(90,0.03),(91.5,-0.36),(93,-0.48),(94.5,-0.49),(96,-0.23),(97.5,0.09),(99,0.23)]
r9c4 = [(0,0.02),(1.5,0.55),(3,0.81),(4.5,0.41),(6,0.0),(7.5,-0.07),(9,0.07),(10.5,0.48),(12,0.77),(13.5,0.69),(15,0.27),(16.5,-0.14),(18,-0.40),(19.5,-0.28),(21,0.14),(22.5,0.44),(24,0.46),(25.5,0.14),(27,-0.28),(28.5,-0.55),(30,-0.65),(31.5,-0.35),(33,0.14),(34.5,0.38),(36,0.37),(37.5,0.0),(39,-0.42),(40.5,-0.46),(42,-0.28),(43.5,0.14),(45,0.38),(46,0.39),(47.5,0.0),(49,-0.42),(50.5,-0.58),(52,-0.42),(53.5,0.0),(55,0.41),(56.5,0.65),(58,0.41),(59.5,0.0),(61,-0.35),(62.5,-0.46),(64,-0.14),(65.5,0.27),(67,0.52),(68.5,0.41),(70,0.0),(71.5,-0.35),(73,-0.40),(74.5,-0.14),(76,0.27),(77.5,0.56),(79,0.48),(80.5,0.07),(82,-0.35),(83.5,-0.53),(85,-0.28),(86.5,0.14),(88,0.55),(89,0.59),(90.5,0.27),(92,-0.21),(93.5,-0.49),(95,-0.28),(96.5,0.07),(98,0.34),(99,0.47)]
r9c5_x = [0,4.61,9.23,13.84,18.45,23.06,27.68,32.29,36.9,41.51,46.13,50.74,55.35,59.96,64.58,69.19,73.8,78.41,83.03,87.64,92.25,96.86,99]
r9c5_y = [0,5800,8200,5800,0,-5800,-8200,-5800,0,5800,8200,5800,0,-5800,-8200,-5800,0,5800,8200,5800,0,-5800,-7600]
r9c6_x = [0,2.7,5.4,8.1,10.8,13.5,16.2,18.9,21.6,24.3,27,29.7,32.4,35.1,37.8,40.5,43.2,45.9,48.6,51.3,54,56.7,59.4,62.1,64.8,67.5,70.2,72.9,75.6,78.3,81,83.7,86.4,89.1,91.8,94.5,97.2,99]
r9c6_y = [0,8200,0,-8200,0,8200,0,-8200,0,8200,0,-8200,0,8200,0,-8200,0,8200,0,-8200,0,8200,0,-8200,0,8200,0,-8200,0,8200,0,-8200,0,8200,0,-8200,0,7000]

r10c1 = [(0,0.0),(2,0.45),(4,0.78),(5.5,0.87),(7,0.89),(9,0.82),(11,0.6),(13,0.3),(15,0.0),(17,-0.25),(19,-0.42),(20.5,-0.47),(22,-0.44),(24,-0.3),(26,-0.15),(28,-0.04),(30,0.0),(31,0.0),(33,-0.06),(35,-0.2),(37,-0.3),(39.5,-0.34),(42,-0.25),(44,-0.05),(46,0.25),(48,0.52),(50,0.74),(52,0.87),(53,0.88),(55,0.8),(57,0.6),(59,0.25),(61,-0.15),(63,-0.55),(65,-0.85),(67,-0.98),(69,-0.9),(71,-0.62),(73,-0.22),(75,0.15),(77,0.42),(79,0.58),(80,0.61),(82,0.55),(84,0.38),(86,0.2),(88,0.04),(90,-0.04),(91.5,-0.05),(93,-0.02),(95,0.06),(97,0.15),(99,0.24)]
r10c2 = [(0,0.29),(1,0.08),(2,0.11),(3,0.52),(4,0.87),(5,1.0),(6,0.87),(7,0.45),(8,0.14),(9,0.10),(10.5,0.11),(12,0.04),(13.5,0.03),(15,-0.08),(16.5,-0.15),(18,-0.18),(19.5,-0.16),(21,-0.04),(22.5,0.17),(24,0.28),(25.5,0.24),(27,0.14),(28.5,0.10),(30,-0.04),(31.5,-0.25),(33,-0.34),(34.5,-0.11),(36,0.07),(37.5,0.11),(39,0.03),(40.5,-0.18),(42,-0.25),(43.5,-0.24),(45,-0.11),(46.5,0.10),(48,0.20),(49.5,0.14),(51,0.03),(52.5,0.24),(54,0.37),(55.5,0.48),(57,0.49),(58.5,0.38),(60,0.17),(61.5,-0.11),(63,-0.35),(64.5,-0.11),(65.5,-0.25),(67,-0.46),(68.5,-0.25),(70,0.10),(71.5,0.31),(73,0.37),(74.5,0.48),(76,0.55),(77.5,0.31),(79,0.01),(80.5,0.06),(82,0.06),(83.5,-0.04),(85,-0.25),(86.5,-0.46),(88,-0.50),(89.5,-0.25),(91,0.07),(92.5,-0.03),(94,0.17),(95.5,0.38),(97,0.52),(98,0.57),(99,0.57)]
r10c3 = [(0,-0.26),(1,0.12),(1.5,0.395),(2.5,0.26),(3.5,0.02),(4.5,-0.10),(5.5,0.02),(6.5,0.23),(7.5,0.33),(8.5,0.37),(9.5,0.19),(11,-0.08),(12.5,-0.21),(14,-0.17),(15.5,-0.15),(16.5,-0.19),(18,-0.22),(19.5,-0.28),(21,-0.30),(22.5,-0.23),(23.5,-0.30),(25,-0.25),(26.5,-0.08),(28,0.12),(29.5,0.32),(31,0.38),(32,0.33),(32.5,0.36),(34,0.19),(35.5,-0.08),(37,-0.29),(38.5,-0.34),(40,-0.22),(41.5,-0.08),(43,-0.01),(44.5,0.01),(46,-0.08),(47.5,-0.21),(49,-0.15),(50.5,0.06),(51.5,0.17),(53,0.10),(54.5,-0.05),(56,-0.15),(57.5,-0.24),(59,-0.33),(60.5,-0.22),(62,-0.08),(63,0.06),(64,-0.15),(65,-0.22),(66,-0.01),(67.5,0.23),(68.5,0.24),(70,0.06),(71.5,-0.10),(73,-0.12),(74.5,-0.10),(76,-0.07),(77.5,-0.01),(79,0.20),(80.5,-0.01),(82,-0.15),(83.5,-0.23),(85,-0.01),(86.5,0.12),(87.5,0.20),(89,0.09),(90.5,-0.08),(92,-0.18),(93,0.10),(94.5,-0.05),(96,-0.15),(97.5,-0.20),(99,-0.15)]
r10c4 = [(0,0.03),(1.5,0.58),(3,0.78),(4.5,0.90),(5.5,0.91),(7,0.97),(8.5,0.71),(10,0.38),(11.5,0.05),(13,-0.17),(14.5,-0.28),(16,-0.35),(17.5,-0.37),(19,-0.45),(20.5,-0.35),(22,-0.24),(23.5,-0.15),(25,0.18),(26.5,0.37),(28,0.38),(29.5,0.25),(31,0.05),(32.5,-0.06),(34,-0.08),(35.5,-0.17),(37,-0.21),(38.5,-0.23),(40,-0.27),(41.5,-0.28),(43,-0.21),(44.5,-0.17),(46,-0.15),(47.5,0.05),(49,0.18),(50.5,0.28),(52,0.32),(53.5,0.28),(55,0.24),(56.5,0.16),(58,0.05),(59.5,-0.08),(61,-0.21),(62.5,-0.29),(64,-0.33),(65.5,-0.31),(67,-0.15),(68.5,-0.02),(70,0.13),(71.5,0.32),(73,0.35),(74.5,0.45),(75.5,0.46),(77,0.32),(78.5,0.05),(80,-0.06),(81.5,-0.15),(83,-0.21),(84.5,-0.28),(86,-0.31),(87.5,-0.29),(89,-0.21),(90.5,-0.08),(92,0.05),(93.5,0.13),(95,0.24),(96.5,0.26),(98,0.32),(99,0.41)]
r10c5_x = [0,5.98,11.95,17.93,23.9,29.88,35.85,41.83,47.8,53.78,59.75,65.73,71.7,77.68,83.65,89.63,95.6,99]
r10c5_y = [0,8200,0,-8200,0,8200,0,-8200,0,8200,0,-8200,0,8200,0,-8200,0,6000]
r10c6_x = [0,4.88,9.75,14.63,19.5,24.38,29.25,34.13,39,43.88,48.75,53.63,58.5,63.38,68.25,73.13,78,82.88,87.75,92.63,97.5,99]
r10c6_y = [0,5800,8200,5800,0,-5800,-8200,-5800,0,5800,8200,5800,0,-5800,-8200,-5800,0,5800,8200,5800,0,-1800]

# tick label sets (as printed) and the span of each subplot's visible y ticks
TICK_SETS = {
    "Q": ["−1.00", "−0.75", "−0.50", "−0.25", "0.00", "0.25", "0.50", "0.75", "1.00"],
    "D": ["−1.0", "−0.8", "−0.6", "−0.4", "−0.2", "0.0", "0.2", "0.4", "0.6", "0.8", "1.0"],
    "H": ["−1.0", "−0.5", "0.0", "0.5", "1.0"],
    "T": ["−0.3", "−0.2", "−0.1", "0.0", "0.1", "0.2", "0.3", "0.4"],
    "K": ["−7500", "−5000", "−2500", "0", "2500", "5000", "7500"],
    "E": ["−8000", "−6000", "−4000", "−2000", "0", "2000", "4000", "6000", "8000"],
}
Y_TICKS = [
    [("Q", -0.75, 1.0), ("Q", -0.75, 1.0), ("D", -0.8, 0.6), ("Q", -0.75, 1.0), ("K", -7500, 7500), ("K", -7500, 7500)],
    [("Q", -0.75, 0.75), ("D", -0.6, 0.8), ("D", -0.4, 0.4), ("D", -0.8, 0.8), ("K", -7500, 7500), ("K", -7500, 7500)],
    [("Q", -1.0, 0.75), ("D", -0.2, 1.0), ("D", -0.6, 0.4), ("D", -0.6, 1.0), ("K", -7500, 7500), ("K", -7500, 7500)],
    [("Q", -1.0, 1.0), ("D", -0.6, 0.8), ("D", -0.6, 0.6), ("Q", -0.75, 0.75), ("K", -7500, 7500), ("E", -8000, 8000)],
    [("Q", -1.0, 1.0), ("D", -0.4, 0.6), ("D", -0.4, 0.4), ("D", -0.6, 0.8), ("K", -7500, 7500), ("E", -8000, 8000)],
    [("Q", -1.0, 1.0), ("D", -0.6, 0.6), ("D", -0.8, 0.6), ("H", -1.0, 1.0), ("K", -7500, 7500), ("K", -7500, 7500)],
    [("Q", -0.75, 0.75), ("D", -0.4, 0.8), ("D", -0.6, 0.6), ("D", -0.4, 0.8), ("K", -7500, 7500), ("K", -7500, 7500)],
    [("Q", -1.0, 1.0), ("D", -0.6, 0.8), ("D", -0.6, 0.6), ("D", -0.8, 0.8), ("K", -7500, 7500), ("K", -7500, 7500)],
    [("Q", -1.0, 1.0), ("D", -0.2, 0.8), ("D", -0.6, 0.6), ("D", -0.6, 0.8), ("K", -7500, 7500), ("K", -7500, 7500)],
    [("Q", -1.0, 1.0), ("D", -0.4, 1.0), ("T", -0.3, 0.4), ("D", -0.4, 1.0), ("K", -7500, 7500), ("K", -7500, 7500)],
]
X_TICKS = ["0", "20", "40", "60", "80", "100"]

GRID = [
    [r1c1, r1c2, r1c3, r1c4, (r1c5_x, r1c5_y), (r1c6_x, r1c6_y)],
    [r2c1, r2c2, r2c3, r2c4, (r2c5_x, r2c5_y), (r2c6_x, r2c6_y)],
    [r3c1, r3c2, r3c3, r3c4, (r3c5_x, r3c5_y), (r3c6_x, r3c6_y)],
    [r4c1, r4c2, r4c3, r4c4, (r4c5_x, r4c5_y), (r4c6_x, r4c6_y)],
    [r5c1, r5c2, r5c3, r5c4, (r5c5_x, r5c5_y), (r5c6_x, r5c6_y)],
    [r6c1, r6c2, r6c3, r6c4, (r6c5_x, r6c5_y), (r6c6_x, r6c6_y)],
    [r7c1, r7c2, r7c3, r7c4, (r7c5_x, r7c5_y), (r7c6_x, r7c6_y)],
    [r8c1, r8c2, r8c3, r8c4, (r8c5_x, r8c5_y), (r8c6_x, r8c6_y)],
    [r9c1, r9c2, r9c3, r9c4, (r9c5_x, r9c5_y), (r9c6_x, r9c6_y)],
    [r10c1, r10c2, r10c3, r10c4, (r10c5_x, r10c5_y), (r10c6_x, r10c6_y)],
]

# ---------------- figure ----------------
S = 2458 / 3600.0
FONT = dict(family="DejaVu Sans", size=13.9 * S, color="black")
LINE_W = 2.08 * S
AX_W = 1.11 * S
TICK_LEN = 4.86 * S

# matplotlib default subplot geometry
LEFT, RIGHT, BOTTOM, TOP = 0.125, 0.9, 0.11, 0.88
AW = (RIGHT - LEFT) / (6 + 5 * 0.2)
AH = (TOP - BOTTOM) / (10 + 9 * 0.2)

fig = go.Figure()
layout = {}
for r in range(10):
    for c in range(6):
        idx = r * 6 + c + 1
        sfx = "" if idx == 1 else str(idx)
        item = GRID[r][c]
        if isinstance(item, tuple):
            xs, ys = item
            shape = "spline"
        else:
            xs = [p[0] for p in item]
            ys = [p[1] for p in item]
            shape = "linear"
        fig.add_trace(go.Scatter(
            x=xs, y=ys, mode="lines",
            line=dict(color="#1f77b4", width=LINE_W, shape=shape),
            xaxis="x" + sfx, yaxis="y" + sfx,
            showlegend=False, hoverinfo="skip"))
        lo, hi = min(ys), max(ys)
        pad = 0.05 * (hi - lo)
        ymin, ymax = lo - pad, hi + pad
        key, t_lo, t_hi = Y_TICKS[r][c]
        labels = [t for t in TICK_SETS[key]
                  if t_lo - 1e-9 <= float(t.replace("−", "-")) <= t_hi + 1e-9]
        vals = [float(t.replace("−", "-")) for t in labels]
        x0 = LEFT + c * AW * 1.2
        ytop = TOP - r * AH * 1.2
        common = dict(showline=True, linecolor="black", linewidth=AX_W, mirror=True,
                      ticks="outside", ticklen=TICK_LEN, tickwidth=AX_W, tickcolor="black",
                      showgrid=False, zeroline=False, tickfont=FONT, fixedrange=True)
        layout["xaxis" + sfx] = dict(
            domain=[x0, x0 + AW], anchor="y" + sfx, range=[-4.95, 103.95],
            tickmode="array", tickvals=[float(t) for t in X_TICKS], ticktext=X_TICKS, **common)
        layout["yaxis" + sfx] = dict(
            domain=[ytop - AH, ytop], anchor="x" + sfx, range=[ymin, ymax],
            tickmode="array", tickvals=vals, ticktext=labels, **common)

fig.update_layout(
    width=2458, height=4096,
    margin=dict(l=0, r=0, t=0, b=0),
    paper_bgcolor="white", plot_bgcolor="white",
    font=FONT, showlegend=False, **layout)

fig.write_html("out.html", config={"displayModeBar": False})
